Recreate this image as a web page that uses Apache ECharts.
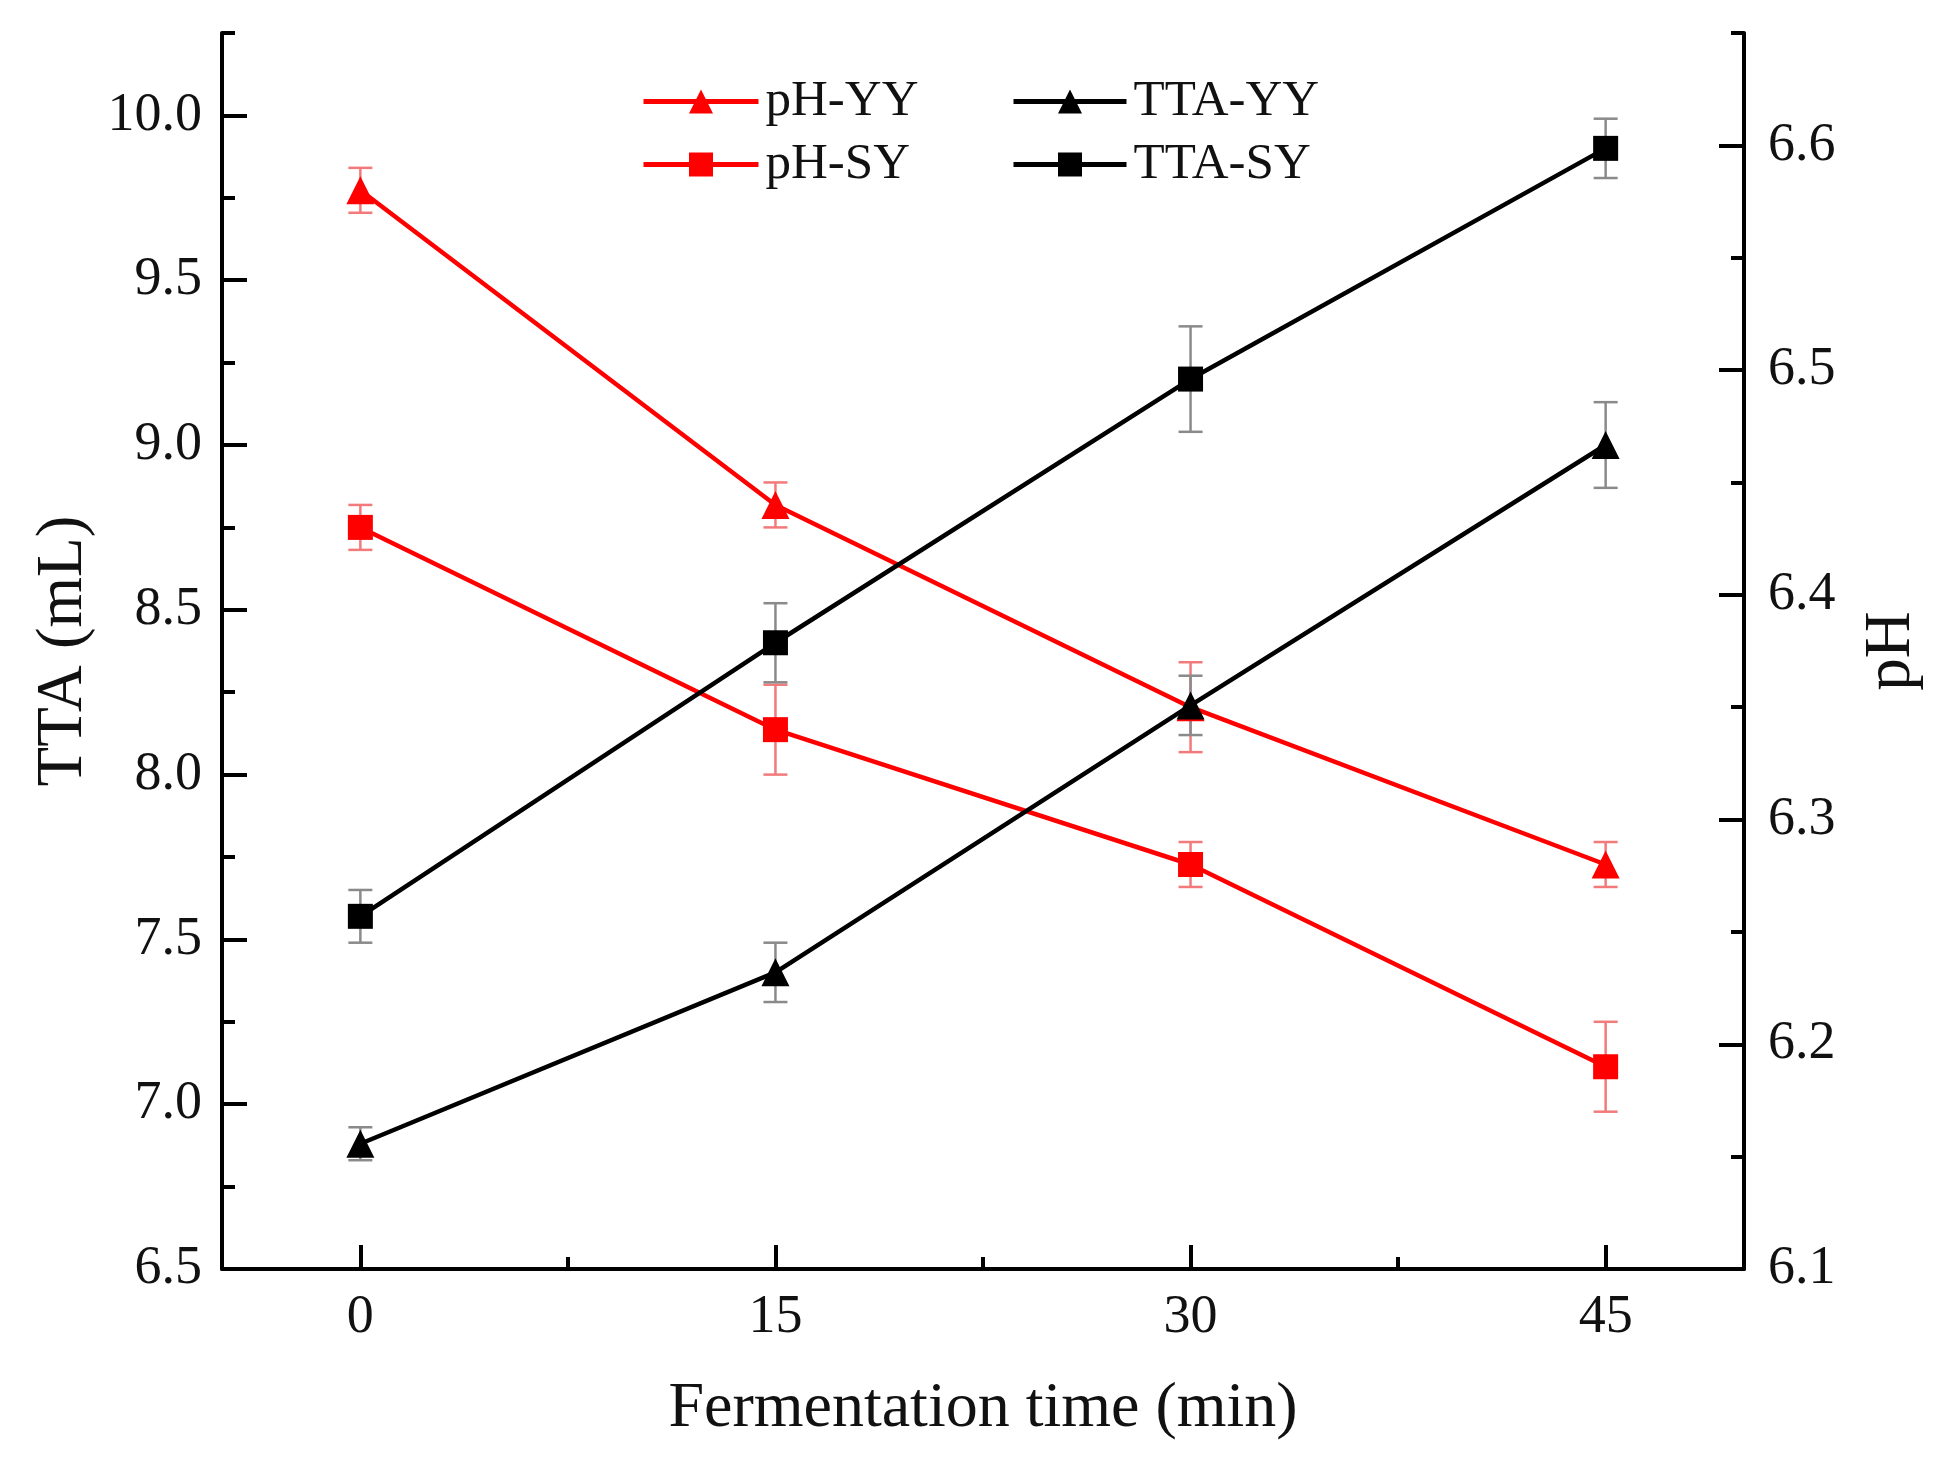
<!DOCTYPE html>
<html>
<head>
<meta charset="utf-8">
<script src="https://cdn.jsdelivr.net/npm/echarts@6/dist/echarts.min.js"></script>
<style>
  html, body { margin: 0; padding: 0; background: #fff; }
  #chart { width: 1949px; height: 1466px; }
</style>
</head>
<body>
<div id="chart"></div>
<script>
// ---- data ----
const timeMin = [0, 15, 30, 45];
const phYY = [6.58, 6.44, 6.35, 6.28];
const phYYErr = [0.01, 0.01, 0.02, 0.01];
const phSY = [6.43, 6.34, 6.28, 6.19];
const phSYErr = [0.01, 0.02, 0.01, 0.02];
const ttaYY = [6.88, 7.40, 8.21, 9.00];
const ttaYYErr = [0.05, 0.09, 0.09, 0.13];
const ttaSY = [7.57, 8.40, 9.20, 9.90];
const ttaSYErr = [0.08, 0.12, 0.16, 0.09];

const xTickValues = [0, 15, 30, 45];
const xMinorTickValues = [7.5, 22.5, 37.5];
const ttaTickValues = [6.5, 7.0, 7.5, 8.0, 8.5, 9.0, 9.5, 10.0];
const phTickValues = [6.1, 6.2, 6.3, 6.4, 6.5, 6.6];

const FONT = "'Liberation Serif', 'Times New Roman', serif";
const TXT = '#111';

const pairs = (xs, ys) => xs.map((x, i) => [x, ys[i]]);
const errData = (xs, ys, es) => xs.map((x, i) => [x, ys[i] - es[i], ys[i] + es[i]]);

function errorRender(color) {
  return function (params, api) {
    const x = api.value(0);
    const pLo = api.coord([x, api.value(1)]);
    const pHi = api.coord([x, api.value(2)]);
    const half = 12;
    const style = { stroke: color, lineWidth: 2.5 };
    return {
      type: 'group',
      children: [
        { type: 'line', shape: { x1: pLo[0], y1: pLo[1], x2: pHi[0], y2: pHi[1] }, style: style },
        { type: 'line', shape: { x1: pLo[0] - half, y1: pLo[1], x2: pLo[0] + half, y2: pLo[1] }, style: style },
        { type: 'line', shape: { x1: pHi[0] - half, y1: pHi[1], x2: pHi[0] + half, y2: pHi[1] }, style: style }
      ]
    };
  };
}

function lineSeries(name, data, yIdx, color, symbol, size) {
  return {
    name: name, type: 'line', xAxisIndex: 0, yAxisIndex: yIdx,
    data: data, symbol: symbol, symbolSize: size, z: 5,
    lineStyle: { color: color, width: 4.5 },
    itemStyle: { color: color },
    emphasis: { disabled: true },
    animation: false
  };
}
function errSeries(name, data, yIdx, color) {
  return {
    name: name, type: 'custom', coordinateSystem: 'cartesian2d',
    xAxisIndex: 0, yAxisIndex: yIdx, data: data, z: 3,
    encode: { x: 0, y: [1, 2] },
    renderItem: errorRender(color),
    animation: false, silent: true
  };
}

const axisLineStyle = { color: '#000', width: 4 };
const labelStyle = { fontFamily: FONT, fontSize: 54, color: TXT };
const tickStyle = { width: 4, color: '#000' };

const chart = echarts.init(document.getElementById('chart'), null, { renderer: 'canvas' });
chart.setOption({
  backgroundColor: '#fff',
  animation: false,
  grid: { left: 222, right: 205, top: 33, bottom: 197, containLabel: false, outerBoundsMode: 'none' },
  legend: [
    {
      orient: 'vertical', left: 636, top: 71, itemGap: 12,
      itemWidth: 115, itemHeight: 30,
      data: ['pH-YY', 'pH-SY'],
      lineStyle: { width: 5 },
      textStyle: { fontFamily: FONT, fontSize: 51, color: TXT, padding: [0, 0, 0, 2] },
      selectedMode: false
    },
    {
      orient: 'vertical', left: 1006, top: 71, itemGap: 12,
      itemWidth: 113, itemHeight: 30,
      data: ['TTA-YY', 'TTA-SY'],
      lineStyle: { width: 5 },
      textStyle: { fontFamily: FONT, fontSize: 51, color: TXT, padding: [0, 0, 0, 2] },
      selectedMode: false
    }
  ],
  xAxis: [
    {
      type: 'value', min: -5, max: 50, position: 'bottom',
      name: 'Fermentation time (min)', nameLocation: 'middle', nameGap: 108,
      nameTextStyle: { fontFamily: FONT, fontSize: 64, color: TXT },
      axisLine: { onZero: false, lineStyle: axisLineStyle },
      axisTick: { inside: true, length: 24, lineStyle: tickStyle, customValues: xTickValues },
      axisLabel: { customValues: xTickValues, margin: 22, ...labelStyle },
      splitLine: { show: false }
    },
    {
      type: 'value', min: -5, max: 50, position: 'bottom',
      axisLine: { show: false, onZero: false },
      axisTick: { inside: true, length: 12, lineStyle: tickStyle, customValues: xMinorTickValues },
      axisLabel: { show: false },
      splitLine: { show: false }
    }
  ],
  yAxis: [
    {
      type: 'value', min: 6.5, max: 10.25, position: 'left',
      name: 'TTA (mL)', nameLocation: 'middle', nameRotate: 90, nameGap: 124,
      nameTextStyle: { fontFamily: FONT, fontSize: 65, color: TXT },
      axisLine: { show: true, onZero: false, lineStyle: axisLineStyle },
      axisTick: { show: true, inside: true, length: 25, lineStyle: tickStyle, customValues: ttaTickValues },
      axisLabel: { customValues: ttaTickValues, margin: 20, formatter: v => v.toFixed(1), ...labelStyle },
      splitLine: { show: false }
    },
    {
      type: 'value', min: 6.1, max: 6.65, position: 'right',
      name: 'pH', nameLocation: 'middle', nameRotate: 90, nameGap: 115,
      nameTextStyle: { fontFamily: FONT, fontSize: 65, color: TXT },
      axisLine: { show: true, onZero: false, lineStyle: axisLineStyle },
      axisTick: { show: true, inside: true, length: 25, lineStyle: tickStyle, customValues: phTickValues },
      axisLabel: { customValues: phTickValues, margin: 24, formatter: v => v.toFixed(1), ...labelStyle },
      splitLine: { show: false }
    },
    {
      type: 'value', min: 6.5, max: 10.25, interval: 0.25, position: 'left',
      axisLine: { show: false, onZero: false },
      axisTick: { show: true, inside: true, length: 13, lineStyle: tickStyle },
      axisLabel: { show: false },
      splitLine: { show: false }
    },
    {
      type: 'value', min: 6.1, max: 6.65, interval: 0.05, position: 'right',
      axisLine: { show: false, onZero: false },
      axisTick: { show: true, inside: true, length: 13, lineStyle: tickStyle },
      axisLabel: { show: false },
      splitLine: { show: false }
    }
  ],
  series: [
    errSeries('pH-YY err', errData(timeMin, phYY, phYYErr), 1, '#f27a7a'),
    errSeries('pH-SY err', errData(timeMin, phSY, phSYErr), 1, '#f27a7a'),
    errSeries('TTA-YY err', errData(timeMin, ttaYY, ttaYYErr), 0, '#8a8a8a'),
    errSeries('TTA-SY err', errData(timeMin, ttaSY, ttaSYErr), 0, '#8a8a8a'),
    lineSeries('pH-YY', pairs(timeMin, phYY), 1, '#ff0000', 'triangle', 28),
    lineSeries('pH-SY', pairs(timeMin, phSY), 1, '#ff0000', 'rect', 25),
    lineSeries('TTA-YY', pairs(timeMin, ttaYY), 0, '#000000', 'triangle', 28),
    lineSeries('TTA-SY', pairs(timeMin, ttaSY), 0, '#000000', 'rect', 25)
  ]
});
</script>
</body>
</html>
